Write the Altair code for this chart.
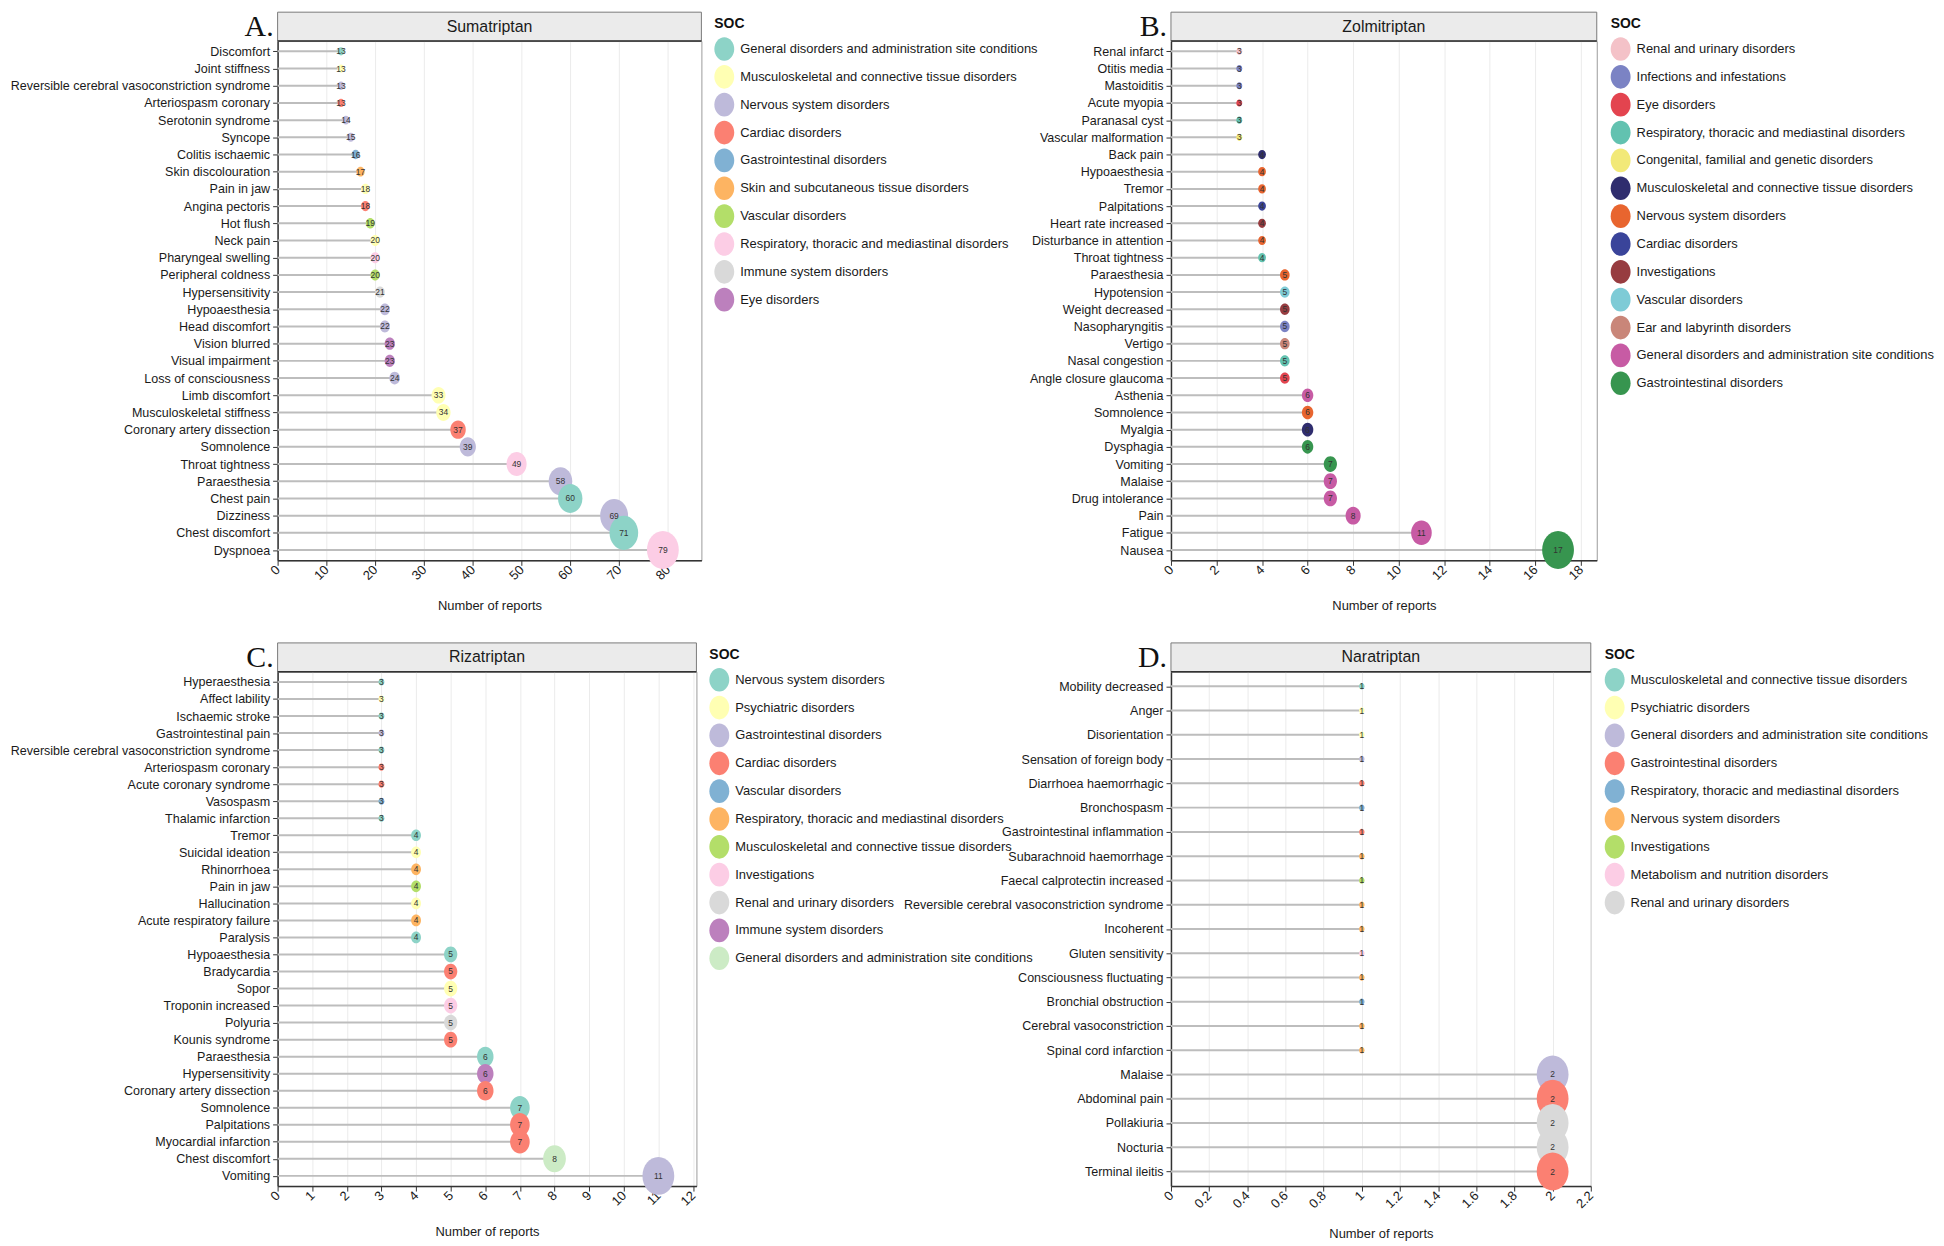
import altair as alt
import pandas as pd

FONT = "Liberation Sans"
SET3 = ["#8DD3C7", "#FFFFB3", "#BEBADA", "#FB8072", "#80B1D3", "#FDB462",
        "#B3DE69", "#FCCDE5", "#D9D9D9", "#BC80BD", "#CCEBC5", "#FFED6F"]

# ---------------- Panel A: Sumatriptan ----------------
a_terms = ["Discomfort", "Joint stiffness", "Reversible cerebral vasoconstriction syndrome",
           "Arteriospasm coronary", "Serotonin syndrome", "Syncope", "Colitis ischaemic",
           "Skin discolouration", "Pain in jaw", "Angina pectoris", "Hot flush", "Neck pain",
           "Pharyngeal swelling", "Peripheral coldness", "Hypersensitivity", "Hypoaesthesia",
           "Head discomfort", "Vision blurred", "Visual impairment", "Loss of consciousness",
           "Limb discomfort", "Musculoskeletal stiffness", "Coronary artery dissection",
           "Somnolence", "Throat tightness", "Paraesthesia", "Chest pain", "Dizziness",
           "Chest discomfort", "Dyspnoea"]
a_values = [13, 13, 13, 13, 14, 15, 16, 17, 18, 18, 19, 20, 20, 20, 21, 22, 22, 23, 23, 24,
            33, 34, 37, 39, 49, 58, 60, 69, 71, 79]
a_soc = ["General disorders and administration site conditions",
         "Musculoskeletal and connective tissue disorders",
         "Nervous system disorders", "Cardiac disorders", "Nervous system disorders",
         "Nervous system disorders", "Gastrointestinal disorders",
         "Skin and subcutaneous tissue disorders",
         "Musculoskeletal and connective tissue disorders", "Cardiac disorders",
         "Vascular disorders", "Musculoskeletal and connective tissue disorders",
         "Respiratory, thoracic and mediastinal disorders", "Vascular disorders",
         "Immune system disorders", "Nervous system disorders", "Nervous system disorders",
         "Eye disorders", "Eye disorders", "Nervous system disorders",
         "Musculoskeletal and connective tissue disorders",
         "Musculoskeletal and connective tissue disorders", "Cardiac disorders",
         "Nervous system disorders", "Respiratory, thoracic and mediastinal disorders",
         "Nervous system disorders", "General disorders and administration site conditions",
         "Nervous system disorders", "General disorders and administration site conditions",
         "Respiratory, thoracic and mediastinal disorders"]
a_order = ["General disorders and administration site conditions",
           "Musculoskeletal and connective tissue disorders", "Nervous system disorders",
           "Cardiac disorders", "Gastrointestinal disorders",
           "Skin and subcutaneous tissue disorders", "Vascular disorders",
           "Respiratory, thoracic and mediastinal disorders", "Immune system disorders",
           "Eye disorders"]
a_colors = SET3[:10]
a_ticks = [0, 10, 20, 30, 40, 50, 60, 70, 80]

# ---------------- Panel B: Zolmitriptan ----------------
b_terms = ["Renal infarct", "Otitis media", "Mastoiditis", "Acute myopia", "Paranasal cyst",
           "Vascular malformation", "Back pain", "Hypoaesthesia", "Tremor", "Palpitations",
           "Heart rate increased", "Disturbance in attention", "Throat tightness",
           "Paraesthesia", "Hypotension", "Weight decreased", "Nasopharyngitis", "Vertigo",
           "Nasal congestion", "Angle closure glaucoma", "Asthenia", "Somnolence", "Myalgia",
           "Dysphagia", "Vomiting", "Malaise", "Drug intolerance", "Pain", "Fatigue", "Nausea"]
b_values = [3, 3, 3, 3, 3, 3, 4, 4, 4, 4, 4, 4, 4, 5, 5, 5, 5, 5, 5, 5, 6, 6, 6, 6, 7, 7, 7,
            8, 11, 17]
b_soc = ["Renal and urinary disorders", "Infections and infestations",
         "Infections and infestations", "Eye disorders",
         "Respiratory, thoracic and mediastinal disorders",
         "Congenital, familial and genetic disorders",
         "Musculoskeletal and connective tissue disorders", "Nervous system disorders",
         "Nervous system disorders", "Cardiac disorders", "Investigations",
         "Nervous system disorders", "Respiratory, thoracic and mediastinal disorders",
         "Nervous system disorders", "Vascular disorders", "Investigations",
         "Infections and infestations", "Ear and labyrinth disorders",
         "Respiratory, thoracic and mediastinal disorders", "Eye disorders",
         "General disorders and administration site conditions", "Nervous system disorders",
         "Musculoskeletal and connective tissue disorders", "Gastrointestinal disorders",
         "Gastrointestinal disorders", "General disorders and administration site conditions",
         "General disorders and administration site conditions",
         "General disorders and administration site conditions",
         "General disorders and administration site conditions",
         "Gastrointestinal disorders"]
b_order = ["Renal and urinary disorders", "Infections and infestations", "Eye disorders",
           "Respiratory, thoracic and mediastinal disorders",
           "Congenital, familial and genetic disorders",
           "Musculoskeletal and connective tissue disorders", "Nervous system disorders",
           "Cardiac disorders", "Investigations", "Vascular disorders",
           "Ear and labyrinth disorders",
           "General disorders and administration site conditions",
           "Gastrointestinal disorders"]
b_colors = ["#F4C2C8", "#7B83C4", "#E3444F", "#62C2B0", "#F2E978", "#2F2D6E", "#E8652F",
            "#3A449A", "#973C40", "#7ECBD6", "#C98679", "#C75BA4", "#37954F"]
b_ticks = [0, 2, 4, 6, 8, 10, 12, 14, 16, 18]

# ---------------- Panel C: Rizatriptan ----------------
c_terms = ["Hyperaesthesia", "Affect lability", "Ischaemic stroke", "Gastrointestinal pain",
           "Reversible cerebral vasoconstriction syndrome", "Arteriospasm coronary",
           "Acute coronary syndrome", "Vasospasm", "Thalamic infarction", "Tremor",
           "Suicidal ideation", "Rhinorrhoea", "Pain in jaw", "Hallucination",
           "Acute respiratory failure", "Paralysis", "Hypoaesthesia", "Bradycardia", "Sopor",
           "Troponin increased", "Polyuria", "Kounis syndrome", "Paraesthesia",
           "Hypersensitivity", "Coronary artery dissection", "Somnolence", "Palpitations",
           "Myocardial infarction", "Chest discomfort", "Vomiting"]
c_values = [3, 3, 3, 3, 3, 3, 3, 3, 3, 4, 4, 4, 4, 4, 4, 4, 5, 5, 5, 5, 5, 5, 6, 6, 6, 7, 7,
            7, 8, 11]
c_soc = ["Nervous system disorders", "Psychiatric disorders", "Nervous system disorders",
         "Gastrointestinal disorders", "Nervous system disorders", "Cardiac disorders",
         "Cardiac disorders", "Vascular disorders", "Nervous system disorders",
         "Nervous system disorders", "Psychiatric disorders",
         "Respiratory, thoracic and mediastinal disorders",
         "Musculoskeletal and connective tissue disorders", "Psychiatric disorders",
         "Respiratory, thoracic and mediastinal disorders", "Nervous system disorders",
         "Nervous system disorders", "Cardiac disorders", "Psychiatric disorders",
         "Investigations", "Renal and urinary disorders", "Cardiac disorders",
         "Nervous system disorders", "Immune system disorders", "Cardiac disorders",
         "Nervous system disorders", "Cardiac disorders", "Cardiac disorders",
         "General disorders and administration site conditions",
         "Gastrointestinal disorders"]
c_order = ["Nervous system disorders", "Psychiatric disorders", "Gastrointestinal disorders",
           "Cardiac disorders", "Vascular disorders",
           "Respiratory, thoracic and mediastinal disorders",
           "Musculoskeletal and connective tissue disorders", "Investigations",
           "Renal and urinary disorders", "Immune system disorders",
           "General disorders and administration site conditions"]
c_colors = SET3[:11]
c_ticks = [0, 1, 2, 3, 4, 5, 6, 7, 8, 9, 10, 11, 12]

# ---------------- Panel D: Naratriptan ----------------
d_terms = ["Mobility decreased", "Anger", "Disorientation", "Sensation of foreign body",
           "Diarrhoea haemorrhagic", "Bronchospasm", "Gastrointestinal inflammation",
           "Subarachnoid haemorrhage", "Faecal calprotectin increased",
           "Reversible cerebral vasoconstriction syndrome", "Incoherent",
           "Gluten sensitivity", "Consciousness fluctuating", "Bronchial obstruction",
           "Cerebral vasoconstriction", "Spinal cord infarction", "Malaise",
           "Abdominal pain", "Pollakiuria", "Nocturia", "Terminal ileitis"]
d_values = [1, 1, 1, 1, 1, 1, 1, 1, 1, 1, 1, 1, 1, 1, 1, 1, 2, 2, 2, 2, 2]
d_soc = ["Musculoskeletal and connective tissue disorders", "Psychiatric disorders",
         "Psychiatric disorders", "General disorders and administration site conditions",
         "Gastrointestinal disorders", "Respiratory, thoracic and mediastinal disorders",
         "Gastrointestinal disorders", "Nervous system disorders", "Investigations",
         "Nervous system disorders", "Nervous system disorders",
         "Metabolism and nutrition disorders", "Nervous system disorders",
         "Respiratory, thoracic and mediastinal disorders", "Nervous system disorders",
         "Nervous system disorders",
         "General disorders and administration site conditions",
         "Gastrointestinal disorders", "Renal and urinary disorders",
         "Renal and urinary disorders", "Gastrointestinal disorders"]
d_order = ["Musculoskeletal and connective tissue disorders", "Psychiatric disorders",
           "General disorders and administration site conditions",
           "Gastrointestinal disorders", "Respiratory, thoracic and mediastinal disorders",
           "Nervous system disorders", "Investigations",
           "Metabolism and nutrition disorders", "Renal and urinary disorders"]
d_colors = SET3[:9]
d_ticks = [0, 0.2, 0.4, 0.6, 0.8, 1, 1.2, 1.4, 1.6, 1.8, 2, 2.2]

# vertically stretched ellipse (glyph shape)
ELLIPSE = ("M0,-1.19C0.5523,-1.19,1,-0.657,1,0C1,0.657,0.5523,1.19,0,1.19"
           "C-0.5523,1.19,-1,0.657,-1,0C-1,-0.657,-0.5523,-1.19,0,-1.19Z")


def panel(letter, drug, terms, values, socs, order, colors, ticks, width, height,
          min_size, legend_dx):
    df = pd.DataFrame({"term": terms, "n": values, "SOC": socs})
    vmax = max(values)
    vmin = min(values)
    xscale = alt.Scale(domain=[0, vmax * 1.1], nice=False, zero=True)
    xaxis = alt.Axis(values=ticks, title="Number of reports", format="~r")
    y = alt.Y("term:N", sort=terms, scale=alt.Scale(type="point", padding=0.6),
              axis=alt.Axis(title=None))
    base = alt.Chart(df)
    sticks = base.transform_calculate(z="0").mark_rule(
        color="#BDBDBD", strokeWidth=2).encode(
        x=alt.X("z:Q", scale=xscale, axis=xaxis), x2=alt.X2("n:Q"), y=y)
    dots = base.mark_point(shape=ELLIPSE, filled=True, opacity=1, strokeWidth=0).encode(
        x=alt.X("n:Q", scale=xscale, axis=xaxis), y=y,
        color=alt.Color("SOC:N", scale=alt.Scale(domain=order, range=colors),
                        legend=alt.Legend(title="SOC", orient="none",
                                          legendX=width + legend_dx, legendY=-24)),
        size=alt.Size("n:Q", scale=alt.Scale(type="pow", exponent=2,
                                             domain=[vmin, vmax],
                                             range=[min_size, 1024]), legend=None))
    labels = base.mark_text(fontSize=8.5, color="#333333", font=FONT).encode(
        x=alt.X("n:Q", scale=xscale, axis=xaxis), y=y, text="n:Q")

    sdf = pd.DataFrame({"drug": [drug], "letter": [letter]})
    sbase = alt.Chart(sdf)
    strip = sbase.mark_rect(fill="#EBEBEB", stroke="#7a7a7a", strokeWidth=1).encode(
        x=alt.value(0), x2=alt.value(width), y=alt.value(-29), y2=alt.value(0))
    top_line = sbase.mark_rule(color="#333333", strokeWidth=1.5).encode(
        x=alt.value(0), x2=alt.value(width), y=alt.value(0))
    strip_text = sbase.mark_text(fontSize=16, font=FONT, color="#1a1a1a",
                                 baseline="middle").encode(
        text="drug:N", x=alt.value(width / 2), y=alt.value(-14.5))
    letter_text = sbase.mark_text(fontSize=30, font="Liberation Serif", color="#111111",
                                  align="right", baseline="alphabetic").encode(
        text="letter:N", x=alt.value(-4), y=alt.value(-5))

    return alt.layer(sticks, dots, labels, strip, top_line, strip_text,
                     letter_text).properties(width=width, height=height)


pA = panel("A.", "Sumatriptan", a_terms, a_values, a_soc, a_order, a_colors, a_ticks,
           426, 522, 49, 13)
pB = panel("B.", "Zolmitriptan", b_terms, b_values, b_soc, b_order, b_colors, b_ticks,
           428, 522, 36, 14)
pC = panel("C.", "Rizatriptan", c_terms, c_values, c_soc, c_order, c_colors, c_ticks,
           421, 517, 36, 13)
pD = panel("D.", "Naratriptan", d_terms, d_values, d_soc, d_order, d_colors, d_ticks,
           422, 517, 30, 14)

chart = alt.concat(pA, pB, pC, pD, columns=2, bounds="flush",
                   spacing={"row": 112, "column": 472}).resolve_scale(
    x="independent", y="independent", color="independent", size="independent"
).resolve_legend(color="independent", size="independent").properties(
    padding={"left": 1, "top": 0, "right": 0, "bottom": 0}
).configure_view(
    stroke="#9a9a9a", strokeWidth=1
).configure_axisY(
    labelFont=FONT, labelFontSize=12.6, labelColor="#1a1a1a", domainColor="#333333",
    domainWidth=1.5, tickColor="#333333", tickSize=5, labelPadding=3, grid=False,
    labelLimit=500
).configure_axisX(
    labelFont=FONT, labelFontSize=13, labelColor="#1a1a1a", domainColor="#333333",
    domainWidth=1.5, tickColor="#333333", tickSize=5, labelPadding=2,
    labelAngle=315, labelAlign="right", labelBaseline="middle",
    grid=True, gridColor="#EBEBEB", gridWidth=1,
    titleFont=FONT, titleFontSize=13, titleFontWeight="normal", titleColor="#1a1a1a",
    titlePadding=17
).configure_legend(
    titleFont=FONT, titleFontSize=14, titleFontWeight="bold", titleColor="#111111",
    titlePadding=8, labelFont=FONT, labelFontSize=13, labelColor="#1a1a1a",
    labelLimit=500, symbolSize=400, symbolType=ELLIPSE, symbolStrokeWidth=0,
    symbolOpacity=1, rowPadding=4, labelOffset=6, padding=0
)

chart.save("out.html", embed_options={"renderer": "svg", "actions": False})
